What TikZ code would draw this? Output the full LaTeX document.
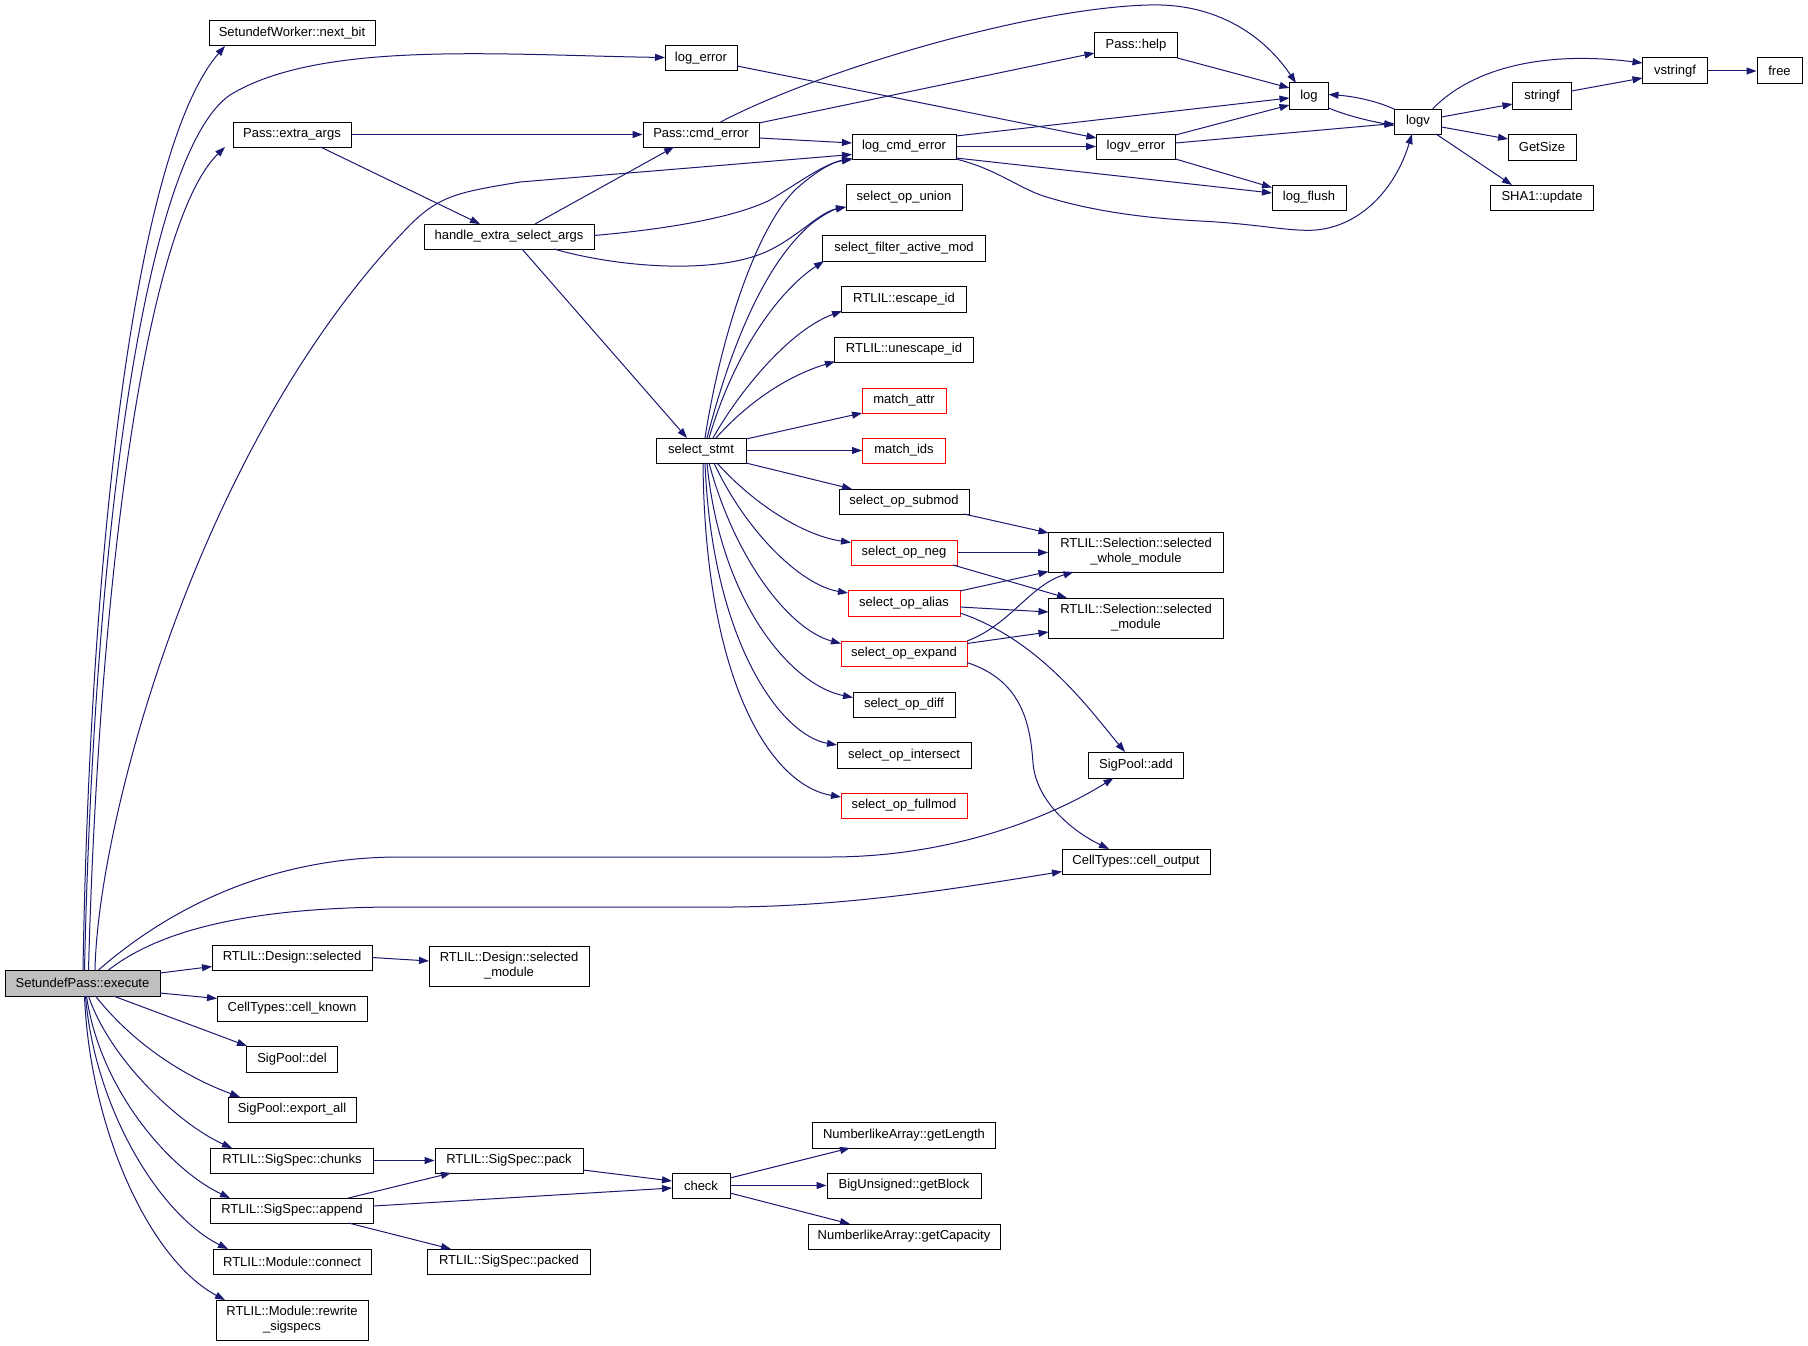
\documentclass[tikz,border=0pt]{standalone}
\usepackage{fontspec}
\setmainfont{Liberation Sans}
\usetikzlibrary{arrows.meta,calc}
\definecolor{edgeblue}{RGB}{25,25,112}
\definecolor{rootgray}{RGB}{191,191,191}
\begin{document}
\begin{tikzpicture}[x=1pt,y=-1pt,
  box/.style={draw=black, line width=1pt, fill=white, inner sep=0pt, font=\fontsize{13}{15}\selectfont, align=center},
  redbox/.style={box, draw=red},
  rootbox/.style={box, fill=rootgray},
  wh/.style 2 args={minimum width=#1, minimum height=#2},
  edge/.style={draw=edgeblue, line width=1pt, -{Triangle[length=10pt,width=7pt]}}]
\useasboundingbox[fill=white] (0,0) rectangle (1808,1346);

% nodes
\node[rootbox, wh={155}{26}] (E) at (82.5,983) {SetundefPass::execute};
\node[box, wh={166}{25}] (nb) at (292,33.5) {SetundefWorker::next\_bit};
\node[box, wh={72}{25}] (le) at (701,58.5) {log\_error};
\node[box, wh={118}{25}] (pea) at (292,134.5) {Pass::extra\_args};
\node[box, wh={116}{25}] (pce) at (701,134.5) {Pass::cmd\_error};
\node[box, wh={170}{25}] (hesa) at (509,236.5) {handle\_extra\_select\_args};
\node[box, wh={90}{25}] (ss) at (701,450.5) {select\_stmt};
\node[box, wh={104}{25}] (lce) at (904,146.5) {log\_cmd\_error};
\node[box, wh={116}{26}] (sou) at (904,197) {select\_op\_union};
\node[box, wh={163}{26}] (sfam) at (904,248) {select\_filter\_active\_mod};
\node[box, wh={125}{26}] (eid) at (904,299) {RTLIL::escape\_id};
\node[box, wh={139}{25}] (uid) at (904,349.5) {RTLIL::unescape\_id};
\node[redbox, wh={84}{25}] (ma) at (904,400.5) {match\_attr};
\node[redbox, wh={83}{25}] (mi) at (904,450.5) {match\_ids};
\node[box, wh={83}{25}] (ph) at (1136,45.5) {Pass::help};
\node[box, wh={79}{25}] (lve) at (1136,146.5) {logv\_error};
\node[box, wh={39}{26}] (log) at (1309,96) {log};
\node[box, wh={74}{25}] (lf) at (1309,197.5) {log\_flush};
\node[box, wh={47}{25}] (logv) at (1418,121.5) {logv};
\node[box, wh={65}{26}] (vs) at (1675,71) {vstringf};
\node[box, wh={45}{26}] (free) at (1779.5,71) {free};
\node[box, wh={59}{26}] (sf) at (1542,96) {stringf};
\node[box, wh={68}{26}] (gs) at (1542,147) {GetSize};
\node[box, wh={103}{25}] (sha) at (1542,197.5) {SHA1::update};
\node[box, wh={130}{25}] (sub) at (904,501.5) {select\_op\_submod};
\node[redbox, wh={106}{25}] (neg) at (904,552.5) {select\_op\_neg};
\node[redbox, wh={112}{26}] (alias) at (904,603) {select\_op\_alias};
\node[redbox, wh={126}{25}] (expand) at (904,653.5) {select\_op\_expand};
\node[box, wh={102}{25}] (diff) at (904,704.5) {select\_op\_diff};
\node[box, wh={134}{26}] (inter) at (904,755) {select\_op\_intersect};
\node[redbox, wh={126}{25}] (full) at (904,805.5) {select\_op\_fullmod};
\node[box, wh={175}{40}] (swm) at (1136,552) {RTLIL::Selection::selected\\\_whole\_module};
\node[box, wh={175}{40}] (sm) at (1136,618) {RTLIL::Selection::selected\\\_module};
\node[box, wh={95}{26}] (spa) at (1136,765) {SigPool::add};
\node[box, wh={148}{25}] (co) at (1136,861.5) {CellTypes::cell\_output};
\node[box, wh={160}{25}] (ds) at (292,957.5) {RTLIL::Design::selected};
\node[box, wh={160}{40}] (dsm) at (509,966) {RTLIL::Design::selected\\\_module};
\node[box, wh={150}{25}] (ck) at (292,1008.5) {CellTypes::cell\_known};
\node[box, wh={91}{26}] (del) at (292,1059) {SigPool::del};
\node[box, wh={128}{25}] (ea) at (292,1109.5) {SigPool::export\_all};
\node[box, wh={163}{25}] (chk) at (292,1160.5) {RTLIL::SigSpec::chunks};
\node[box, wh={163}{25}] (app) at (292,1210.5) {RTLIL::SigSpec::append};
\node[box, wh={158}{25}] (con) at (292,1261.5) {RTLIL::Module::connect};
\node[box, wh={152}{40}] (rw) at (292,1320) {RTLIL::Module::rewrite\\\_sigspecs};
\node[box, wh={148}{25}] (pack) at (509,1160.5) {RTLIL::SigSpec::pack};
\node[box, wh={163}{25}] (packed) at (509,1261.5) {RTLIL::SigSpec::packed};
\node[box, wh={58}{25}] (check) at (701,1185.5) {check};
\node[box, wh={183}{26}] (gl) at (904,1135) {NumberlikeArray::getLength};
\node[box, wh={154}{25}] (gb) at (904,1185.5) {BigUnsigned::getBlock};
\node[box, wh={192}{25}] (gc) at (904,1236.5) {NumberlikeArray::getCapacity};

% edges from SetundefPass::execute
\draw[edge] ($(E)+(0.5,-13)$) .. controls (90,550) and (135,150) .. ($(nb)+(-67,12.5)$);
\draw[edge] ($(E)+(2,-13)$) .. controls (95,500) and (150,150) .. (230,95) .. controls (320,40) and (500,55) .. ($(le)+(-36,-1)$);
\draw[edge] ($(E)+(6,-13)$) .. controls (100,550) and (150,220) .. ($(pea)+(-67,12.5)$);
\draw[edge] ($(E)+(12.5,-13)$) .. controls (98,820) and (200,440) .. (410,225) .. controls (440,195) and (460,192) .. (520,182) -- ($(lce)+(-52,8)$);
\draw[edge] ($(E)+(16,-13)$) .. controls (150,925) and (250,857) .. (400,857) -- (830,857) .. controls (950,857) and (1050,818) .. ($(spa)+(-22.5,13)$);
\draw[edge] ($(E)+(26,-13)$) .. controls (160,930) and (250,907) .. (400,907) -- (733,907) .. controls (850,906) and (960,888) .. ($(co)+(-74,10)$);
\draw[edge] ($(E)+(77.5,-10)$) -- ($(ds)+(-80,9)$);
\draw[edge] ($(E)+(77.5,10)$) -- ($(ck)+(-75,-10)$);
\draw[edge] ($(E)+(31,13)$) -- ($(del)+(-45,-13)$);
\draw[edge] ($(E)+(13,13)$) .. controls (130,1040) and (180,1075) .. ($(ea)+(-52,-12.5)$);
\draw[edge] ($(E)+(6,13)$) .. controls (110,1060) and (180,1125) .. ($(chk)+(-60,-12.5)$);
\draw[edge] ($(E)+(4,13)$) .. controls (100,1090) and (170,1170) .. ($(app)+(-62,-12.5)$);
\draw[edge] ($(E)+(3,13)$) .. controls (95,1110) and (160,1215) .. ($(con)+(-64,-12.5)$);
\draw[edge] ($(E)+(2,13)$) .. controls (90,1130) and (150,1260) .. ($(rw)+(-67,-20)$);

% Pass::extra_args
\draw[edge] (pea) -- (pce);
\draw[edge] ($(pea)+(28.5,12.5)$) -- ($(hesa)+(-29,-12.5)$);

% handle_extra_select_args
\draw[edge] ($(hesa)+(26,-12.5)$) -- ($(pce)+(-27,12.5)$);
\draw[edge] ($(hesa)+(85,-1)$) .. controls (680,228) and (740,215) .. (770,200) .. controls (800,182) and (825,163) .. ($(lce)+(-52,13)$);
\draw[edge] ($(hesa)+(45,12.5)$) .. controls (620,268) and (720,275) .. (770,250) .. controls (800,235) and (820,212) .. ($(sou)+(-58,10)$);
\draw[edge] ($(hesa)+(13,12.5)$) -- ($(ss)+(-14,-12.5)$);

% Pass::cmd_error
\draw[edge] ($(pce)+(19.5,-12.5)$) .. controls (820,70) and (1030,8) .. (1149,5) .. controls (1210,3) and (1260,30) .. ($(log)+(-13,-13)$);
\draw[edge] ($(pce)+(58,-11.5)$) -- ($(ph)+(-41.5,7.5)$);
\draw[edge] ($(pce)+(58,3.5)$) -- ($(lce)+(-52,-3.5)$);

% log_error
\draw[edge] ($(le)+(36,7.5)$) -- ($(lve)+(-39.5,-8.5)$);

% log_cmd_error
\draw[edge] ($(lce)+(52,-10.5)$) -- ($(log)+(-19.5,2)$);
\draw[edge] (lce) -- (lve);
\draw[edge] ($(lce)+(52,11.5)$) -- ($(lf)+(-37,-4.5)$);
\draw[edge] ($(lce)+(52,12.5)$) .. controls (1000,170) and (1020,190) .. (1050,198) .. controls (1090,210) and (1140,218) .. (1200,221) .. controls (1260,224) and (1290,232) .. (1316,230) .. controls (1360,226) and (1395,190) .. ($(logv)+(-6,12.5)$);

% Pass::help, logv_error
\draw[edge] ($(ph)+(41.5,12.5)$) -- ($(log)+(-19.5,-8)$);
\draw[edge] ($(lve)+(39.5,-11.5)$) -- ($(log)+(-19.5,9)$);
\draw[edge] ($(lve)+(39.5,-3.5)$) -- ($(logv)+(-23.5,2)$);
\draw[edge] ($(lve)+(39.5,12.5)$) -- ($(lf)+(-37,-10)$);

% log <-> logv
\draw[edge] ($(log)+(19.5,12)$) .. controls (1350,117) and (1375,122) .. ($(logv)+(-23.5,4)$);
\draw[edge] ($(logv)+(-23,-12)$) .. controls (1375,100) and (1350,96) .. ($(log)+(19.5,-1.5)$);

% logv
\draw[edge] ($(logv)+(14.5,-12.5)$) .. controls (1470,70) and (1540,50) .. ($(vs)+(-32.5,-8)$);
\draw[edge] ($(logv)+(23.5,-4.5)$) -- ($(sf)+(-29.5,8)$);
\draw[edge] ($(logv)+(23.5,5.5)$) -- ($(gs)+(-34,-8)$);
\draw[edge] ($(logv)+(18,12.5)$) -- ($(sha)+(-30,-12.5)$);
\draw[edge] ($(sf)+(29.5,-5)$) -- ($(vs)+(-32.5,7)$);
\draw[edge] (vs) -- (free);

% select_stmt
\draw[edge] ($(ss)+(4,-12.5)$) .. controls (720,340) and (755,230) .. (795,190) .. controls (815,172) and (832,162) .. ($(lce)+(-52,12)$);
\draw[edge] ($(ss)+(6,-12.5)$) .. controls (735,330) and (770,260) .. (810,225) .. controls (822,215) and (835,209) .. ($(sou)+(-58,10)$);
\draw[edge] ($(ss)+(8,-12.5)$) .. controls (735,350) and (780,290) .. ($(sfam)+(-80,13)$);
\draw[edge] ($(ss)+(12,-12.5)$) .. controls (740,390) and (790,330) .. ($(eid)+(-62,12)$);
\draw[edge] ($(ss)+(15,-12.5)$) .. controls (750,400) and (790,375) .. ($(uid)+(-69,12)$);
\draw[edge] ($(ss)+(45,-11.5)$) -- ($(ma)+(-42,12.5)$);
\draw[edge] (ss) -- (mi);
\draw[edge] ($(ss)+(45,12.5)$) -- ($(sub)+(-52,-12.5)$);
\draw[edge] ($(ss)+(16,12.5)$) .. controls (750,500) and (800,535) .. ($(neg)+(-53,-10)$);
\draw[edge] ($(ss)+(13,12.5)$) .. controls (745,530) and (800,585) .. ($(alias)+(-56,-10)$);
\draw[edge] ($(ss)+(8,12.5)$) .. controls (735,560) and (790,630) .. ($(expand)+(-63,-10)$);
\draw[edge] ($(ss)+(6,12.5)$) .. controls (720,600) and (790,685) .. ($(diff)+(-51,-7)$);
\draw[edge] ($(ss)+(4,12.5)$) .. controls (712,640) and (780,735) .. ($(inter)+(-67,-10)$);
\draw[edge] ($(ss)+(2,12.5)$) .. controls (705,680) and (770,785) .. ($(full)+(-63,-8.5)$);

% select_op_*
\draw[edge] ($(sub)+(60,12.5)$) -- ($(swm)+(-87.5,-19)$);
\draw[edge] (neg.east) -- (neg.east -| swm.west);
\draw[edge] ($(neg)+(49,12.5)$) -- ($(sm)+(-69,-20)$);
\draw[edge] ($(alias)+(56,-12)$) -- ($(swm)+(-87.5,19.5)$);
\draw[edge] ($(alias)+(56,4)$) -- ($(sm)+(-87.5,-6)$);
\draw[edge] ($(alias)+(56,10)$) .. controls (1040,640) and (1090,710) .. ($(spa)+(-11,-13)$);
\draw[edge] ($(expand)+(63,-12.5)$) .. controls (1010,625) and (1030,585) .. ($(swm)+(-62.5,20)$);
\draw[edge] ($(expand)+(63,-10)$) -- ($(sm)+(-87.5,14)$);
\draw[edge] ($(expand)+(63,9)$) .. controls (1020,680) and (1030,720) .. (1033,763) .. controls (1036,800) and (1070,830) .. ($(co)+(-27,-12.5)$);

% lower part
\draw[edge] ($(ds)+(80,0)$) -- ($(dsm)+(-80,-5)$);
\draw[edge] (chk) -- (pack);
\draw[edge] ($(app)+(56.5,-12.5)$) -- ($(pack)+(-58,12.5)$);
\draw[edge] ($(app)+(81.5,-4.5)$) -- ($(check)+(-29,2.5)$);
\draw[edge] ($(app)+(56.5,12.5)$) -- ($(packed)+(-58,-12.5)$);
\draw[edge] ($(pack)+(74,9.5)$) -- ($(check)+(-29,-4.5)$);
\draw[edge] ($(check)+(29,-7.5)$) -- ($(gl)+(-54,13)$);
\draw[edge] (check) -- (gb);
\draw[edge] ($(check)+(29,7.5)$) -- ($(gc)+(-54,-12.5)$);
\end{tikzpicture}
\end{document}
